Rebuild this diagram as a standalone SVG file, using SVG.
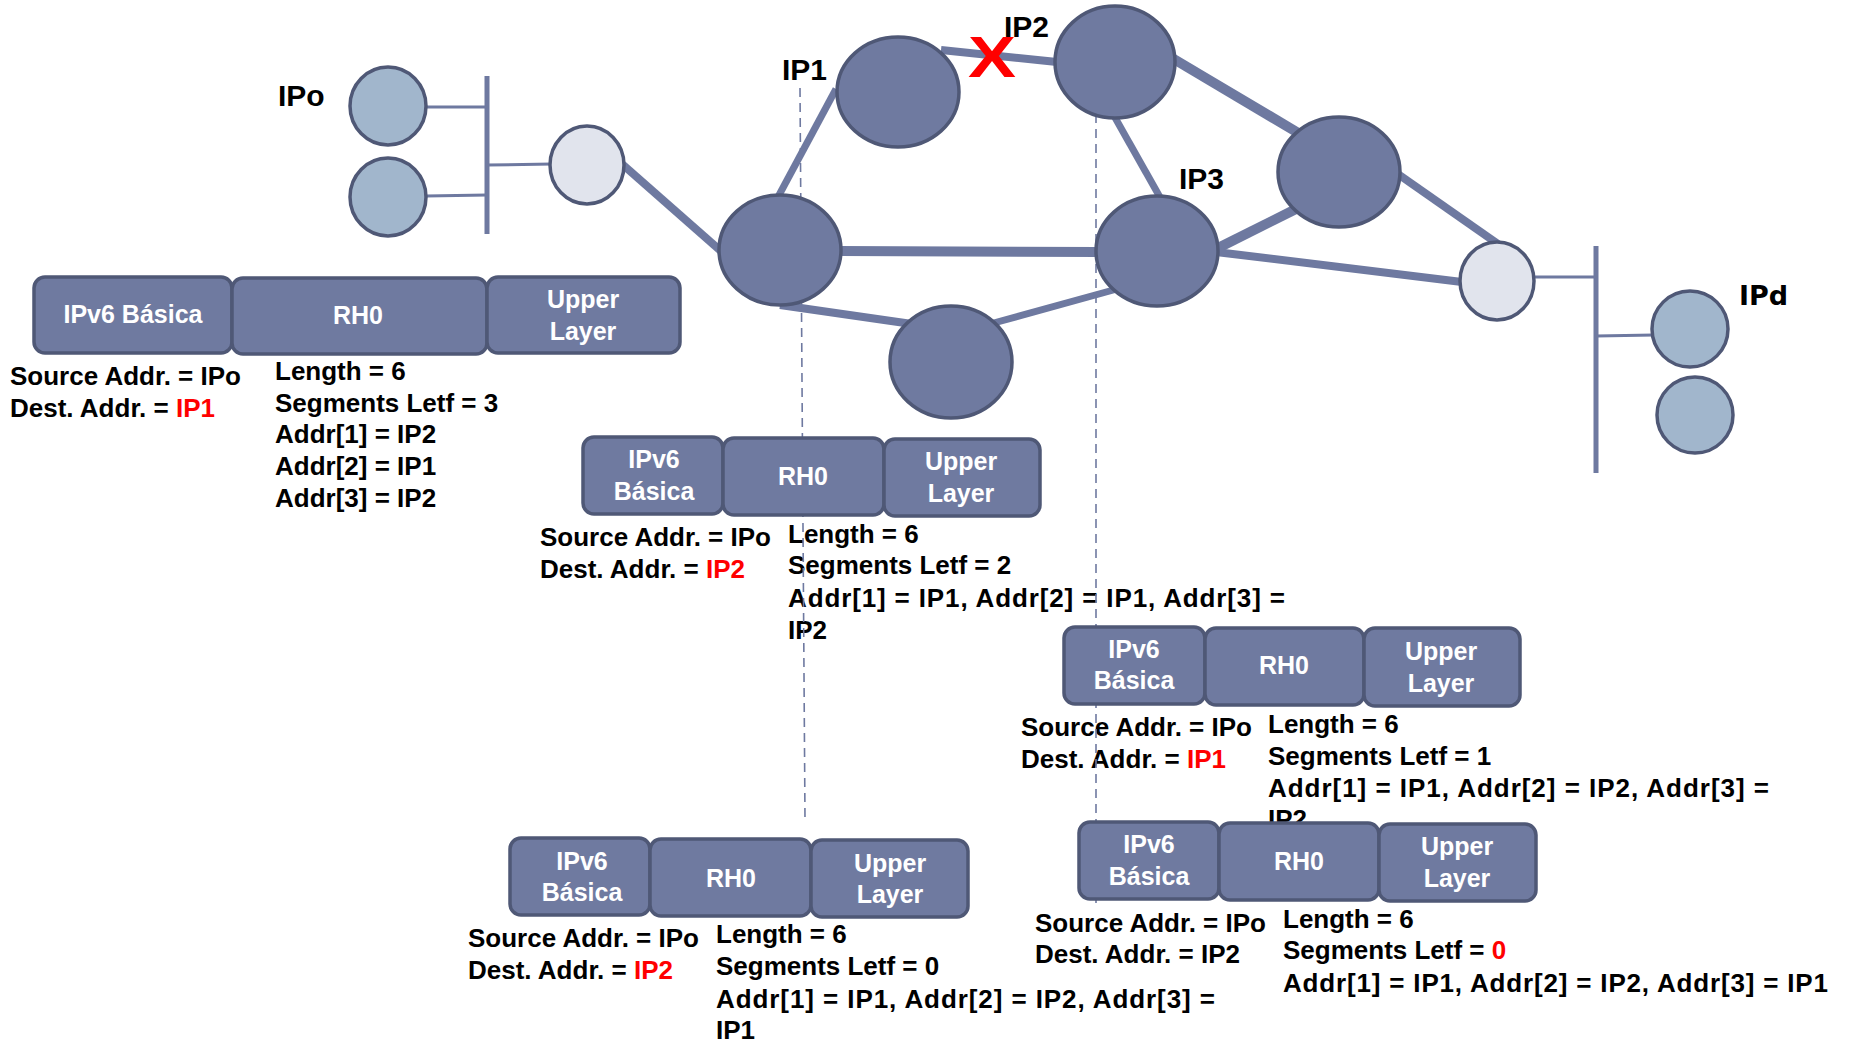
<svg xmlns="http://www.w3.org/2000/svg" width="1849" height="1042" viewBox="0 0 1849 1042">
<style>
.lnk{stroke:#6E79A0;fill:none;stroke-linecap:butt}
.thin{stroke:#6E79A0;stroke-width:3;fill:none}
.bar{stroke:#6E79A0;stroke-width:5;fill:none}
.dash{stroke:#6E79A0;stroke-width:1.6;stroke-dasharray:9 6;fill:none}
.node{fill:#6F7AA0;stroke:#4F5876;stroke-width:3.5}
.host{fill:#A1B6CC;stroke:#4F5876;stroke-width:3.5}
.rtr{fill:#E1E4ED;stroke:#4F5876;stroke-width:3.5}
.box{fill:#6F7AA0;stroke:#4F5876;stroke-width:3.5}
.bt{font-family:"Liberation Sans",Arial,sans-serif;font-weight:bold;font-size:25px;fill:#FFFFFF;text-anchor:middle}
.t{font-family:"Liberation Sans",Arial,sans-serif;font-weight:bold;font-size:26px;fill:#000000}
.lbl{font-family:"Liberation Sans",Arial,sans-serif;font-weight:bold;font-size:30px;fill:#000000}
.red{fill:#FF0000}
</style>

<!-- packet texts (under boxes) -->
<g id="texts">
  <g id="pkt1-text">
    <text class="t" x="10" y="385">Source Addr. = IPo</text>
    <text class="t" x="10" y="417">Dest. Addr. = <tspan class="red">IP1</tspan></text>
    <text class="t" x="275" y="380">Length = 6</text>
    <text class="t" x="275" y="412">Segments Letf = 3</text>
    <text class="t" x="275" y="443">Addr[1] = IP2</text>
    <text class="t" x="275" y="475">Addr[2] = IP1</text>
    <text class="t" x="275" y="507">Addr[3] = IP2</text>
  </g>
  <g id="pkt2-text">
    <text class="t" x="540" y="546">Source Addr. = IPo</text>
    <text class="t" x="540" y="578">Dest. Addr. = <tspan class="red">IP2</tspan></text>
    <text class="t" x="788" y="543">Length = 6</text>
    <text class="t" x="788" y="574">Segments Letf = 2</text>
    <text class="t" x="788" y="607" textLength="497">Addr[1] = IP1, Addr[2] = IP1, Addr[3] =</text>
    <text class="t" x="788" y="639">IP2</text>
  </g>
  <g id="pkt3-text">
    <text class="t" x="1021" y="736">Source Addr. = IPo</text>
    <text class="t" x="1021" y="768">Dest. Addr. = <tspan class="red">IP1</tspan></text>
    <text class="t" x="1268" y="733">Length = 6</text>
    <text class="t" x="1268" y="765">Segments Letf = 1</text>
    <text class="t" x="1268" y="797" textLength="501">Addr[1] = IP1, Addr[2] = IP2, Addr[3] =</text>
    <text class="t" x="1268" y="828">IP2</text>
  </g>
  <g id="pkt4-text">
    <text class="t" x="468" y="947">Source Addr. = IPo</text>
    <text class="t" x="468" y="979">Dest. Addr. = <tspan class="red">IP2</tspan></text>
    <text class="t" x="716" y="943">Length = 6</text>
    <text class="t" x="716" y="975">Segments Letf = 0</text>
    <text class="t" x="716" y="1008" textLength="499">Addr[1] = IP1, Addr[2] = IP2, Addr[3] =</text>
    <text class="t" x="716" y="1039">IP1</text>
  </g>
  <g id="pkt5-text">
    <text class="t" x="1035" y="932">Source Addr. = IPo</text>
    <text class="t" x="1035" y="963">Dest. Addr. = IP2</text>
    <text class="t" x="1283" y="928">Length = 6</text>
    <text class="t" x="1283" y="959">Segments Letf = <tspan class="red">0</tspan></text>
    <text class="t" x="1283" y="992" textLength="545">Addr[1] = IP1, Addr[2] = IP2, Addr[3] = IP1</text>
  </g>
</g>

<g id="connectors">
  <line class="dash" x1="800" y1="88" x2="805" y2="820"/>
  <line class="dash" x1="1096" y1="114" x2="1096" y2="907"/>
  <!-- left LAN -->
  <line class="bar" x1="487" y1="76" x2="487" y2="234"/>
  <line class="thin" x1="426" y1="107" x2="487" y2="107"/>
  <line class="thin" x1="426" y1="196" x2="487" y2="195"/>
  <line class="thin" x1="487" y1="165" x2="552" y2="164"/>
  <!-- right LAN -->
  <line class="bar" x1="1596" y1="246" x2="1596" y2="473"/>
  <line class="thin" x1="1533" y1="277" x2="1596" y2="277"/>
  <line class="thin" x1="1596" y1="336" x2="1654" y2="335"/>
  <!-- core links -->
  <line class="lnk" stroke-width="8" x1="622" y1="164" x2="722" y2="252"/>
  <line class="lnk" stroke-width="7" x1="778" y1="197" x2="836" y2="89"/>
  <line class="lnk" stroke-width="8" x1="941" y1="50" x2="1057" y2="62"/>
  <line class="lnk" stroke-width="10" x1="1172" y1="58" x2="1300" y2="134"/>
  <line class="lnk" stroke-width="7" x1="1113" y1="114" x2="1161" y2="199"/>
  <line class="lnk" stroke-width="10" x1="839" y1="251" x2="1098" y2="252"/>
  <line class="lnk" stroke-width="8" x1="780" y1="305" x2="912" y2="324"/>
  <line class="lnk" stroke-width="7" x1="990" y1="324" x2="1117" y2="289"/>
  <line class="lnk" stroke-width="10" x1="1216" y1="249" x2="1300" y2="207"/>
  <line class="lnk" stroke-width="8" x1="1216" y1="252" x2="1462" y2="282"/>
  <line class="lnk" stroke-width="8" x1="1395" y1="172" x2="1498" y2="244"/>
</g>

<g id="nodes">
  <g id="host-o1"><ellipse class="host" cx="388" cy="106" rx="38" ry="39"/></g>
  <g id="host-o2"><ellipse class="host" cx="388" cy="197" rx="38" ry="39"/></g>
  <g id="router-left"><ellipse class="rtr" cx="587" cy="165" rx="37" ry="39"/></g>
  <g id="node-left"><ellipse class="node" cx="780" cy="250" rx="61" ry="55"/></g>
  <g id="node-ip1"><ellipse class="node" cx="898" cy="92" rx="61" ry="55"/></g>
  <g id="node-ip2"><ellipse class="node" cx="1115" cy="62" rx="60" ry="56"/></g>
  <g id="node-right"><ellipse class="node" cx="1339" cy="172" rx="61" ry="55"/></g>
  <g id="node-ip3"><ellipse class="node" cx="1157" cy="251" rx="61" ry="55"/></g>
  <g id="node-bottom"><ellipse class="node" cx="951" cy="362" rx="61" ry="56"/></g>
  <g id="router-right"><ellipse class="rtr" cx="1497" cy="281" rx="37" ry="39"/></g>
  <g id="host-d1"><ellipse class="host" cx="1690" cy="329" rx="38" ry="38"/></g>
  <g id="host-d2"><ellipse class="host" cx="1695" cy="415" rx="38" ry="38"/></g>
</g>

<g id="labels">
  <text class="lbl" x="278" y="106">IPo</text>
  <text class="lbl" x="782" y="80" font-size="29">IP1</text>
  <text class="lbl" x="1004" y="37" font-size="29">IP2</text>
  <text class="lbl" x="1179" y="189" font-size="29">IP3</text>
  <text x="1739" y="305" font-family="'DejaVu Sans',sans-serif" font-weight="bold" font-size="27" fill="#000">IPd</text>
  <text x="968" y="77" font-family="'Liberation Sans',Arial,sans-serif" font-weight="bold" font-size="58" fill="#FF0000" textLength="48" lengthAdjust="spacingAndGlyphs">X</text>
</g>

<g id="packet1">
  <rect class="box" x="34" y="277" width="198" height="76" rx="11"/>
  <rect class="box" x="232" y="278" width="255" height="76" rx="11"/>
  <rect class="box" x="487" y="277" width="193" height="76" rx="11"/>
  <text class="bt" x="133" y="323">IPv6 Básica</text>
  <text class="bt" x="358" y="324">RH0</text>
  <text class="bt" x="583" y="308">Upper</text>
  <text class="bt" x="583" y="340">Layer</text>
</g>
<g id="packet2">
  <rect class="box" x="583" y="437" width="140" height="77" rx="11"/>
  <rect class="box" x="723" y="438" width="161" height="77" rx="11"/>
  <rect class="box" x="884" y="439" width="156" height="77" rx="11"/>
  <text class="bt" x="654" y="468">IPv6</text>
  <text class="bt" x="654" y="500">Básica</text>
  <text class="bt" x="803" y="485">RH0</text>
  <text class="bt" x="961" y="470">Upper</text>
  <text class="bt" x="961" y="502">Layer</text>
</g>
<g id="packet3">
  <rect class="box" x="1064" y="627" width="141" height="77" rx="11"/>
  <rect class="box" x="1205" y="628" width="159" height="77" rx="11"/>
  <rect class="box" x="1364" y="628" width="156" height="78" rx="11"/>
  <text class="bt" x="1134" y="658">IPv6</text>
  <text class="bt" x="1134" y="689">Básica</text>
  <text class="bt" x="1284" y="674">RH0</text>
  <text class="bt" x="1441" y="660">Upper</text>
  <text class="bt" x="1441" y="692">Layer</text>
</g>
<g id="packet4">
  <rect class="box" x="510" y="838" width="140" height="77" rx="11"/>
  <rect class="box" x="650" y="839" width="161" height="77" rx="11"/>
  <rect class="box" x="811" y="840" width="157" height="77" rx="11"/>
  <text class="bt" x="582" y="870">IPv6</text>
  <text class="bt" x="582" y="901">Básica</text>
  <text class="bt" x="731" y="887">RH0</text>
  <text class="bt" x="890" y="872">Upper</text>
  <text class="bt" x="890" y="903">Layer</text>
</g>
<g id="packet5">
  <rect class="box" x="1079" y="822" width="140" height="77" rx="11"/>
  <rect class="box" x="1219" y="823" width="160" height="77" rx="11"/>
  <rect class="box" x="1379" y="824" width="157" height="77" rx="11"/>
  <text class="bt" x="1149" y="853">IPv6</text>
  <text class="bt" x="1149" y="885">Básica</text>
  <text class="bt" x="1299" y="870">RH0</text>
  <text class="bt" x="1457" y="855">Upper</text>
  <text class="bt" x="1457" y="887">Layer</text>
</g>
</svg>
